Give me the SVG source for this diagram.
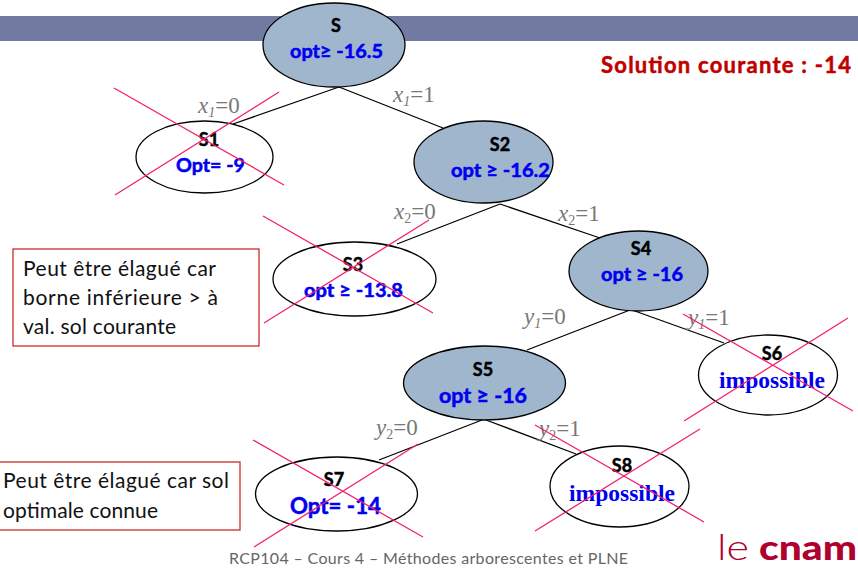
<svg xmlns="http://www.w3.org/2000/svg" width="858" height="568" viewBox="0 0 858 568">
<style>
.n{stroke:#000;stroke-width:1.3}
.g{fill:#9fb6cd}
.w{fill:#fff}
.c{stroke:#000;stroke-width:1.3;fill:none}
.x{stroke:#f5206e;stroke-width:1.3;fill:none}
.t{font-family:"Lato","Liberation Sans",sans-serif;font-weight:700;stroke-width:.5}
.h{font-size:18px;fill:#000;stroke:#000;text-anchor:middle}
.b{font-size:18px;fill:#0000f0;stroke:#0000f0}
.i{font-family:"Liberation Serif",serif;font-weight:700;font-size:23px;fill:#0000f0}
.e{font-family:"Liberation Serif",serif;font-size:23px;fill:#777}
.e .v{font-style:italic}
.e .s{font-size:14px}
.r{fill:#fff;stroke:#cc2a2a;stroke-width:1.3}
.a{font-family:"Lato","Liberation Sans",sans-serif;font-size:21px;fill:#111}
</style>
<rect id="band" x="0" y="16" width="858" height="25" fill="#717ba1"/>
<g id="connectors">
<path class="c" d="M339 87L233 124"/>
<path class="c" d="M339 87L443 128"/>
<path class="c" d="M500 204L397 244"/>
<path class="c" d="M500 204L600 238"/>
<path class="c" d="M630 310L527 350"/>
<path class="c" d="M632 310L724 343"/>
<path class="c" d="M482 420L379 460"/>
<path class="c" d="M486 420L576 454"/>
</g>
<g id="edge-labels">
<text class="e" x="198" y="113"><tspan class="v">x</tspan><tspan class="s v" dy="4">1</tspan><tspan dy="-4">=0</tspan></text>
<text class="e" x="393" y="102"><tspan class="v">x</tspan><tspan class="s v" dy="4">1</tspan><tspan dy="-4">=1</tspan></text>
<text class="e" x="394" y="219"><tspan class="v">x</tspan><tspan class="s" dy="4">2</tspan><tspan dy="-4">=0</tspan></text>
<text class="e" x="558" y="221"><tspan class="v">x</tspan><tspan class="s" dy="4">2</tspan><tspan dy="-4">=1</tspan></text>
<text class="e" x="524" y="324"><tspan class="v">y</tspan><tspan class="s v" dy="4">1</tspan><tspan dy="-4">=0</tspan></text>
<text class="e" x="688" y="325"><tspan class="v">y</tspan><tspan class="s v" dy="4">1</tspan><tspan dy="-4">=1</tspan></text>
<text class="e" x="376" y="435"><tspan class="v">y</tspan><tspan class="s" dy="4">2</tspan><tspan dy="-4">=0</tspan></text>
<text class="e" x="539" y="436"><tspan class="v">y</tspan><tspan class="s" dy="4">2</tspan><tspan dy="-4">=1</tspan></text>
</g>
<g id="S">
<ellipse class="n g" cx="334" cy="45" rx="71" ry="42"/>
<text class="t h" x="336" y="32">S</text>
<text class="t b" x="290" y="58" textLength="93" lengthAdjust="spacingAndGlyphs">opt≥ -16.5</text>
</g>
<g id="S1">
<ellipse class="n w" cx="204.500" cy="157" rx="68.500" ry="36"/>
<text class="t h" x="209" y="146">S1</text>
<text class="t b" x="176" y="172" textLength="69" lengthAdjust="spacingAndGlyphs">Opt= -9</text>
<path class="x" d="M114 88L284 185M279 92L115 195"/>
</g>
<g id="S2">
<ellipse class="n g" cx="483.500" cy="162" rx="69.500" ry="41"/>
<text class="t h" x="500" y="151">S2</text>
<text class="t b" x="451" y="177" textLength="99" lengthAdjust="spacingAndGlyphs">opt ≥ -16.2</text>
</g>
<g id="S3">
<ellipse class="n w" cx="354.500" cy="279" rx="81.500" ry="37"/>
<text class="t h" x="353" y="271">S3</text>
<text class="t b" x="304" y="297" textLength="99" lengthAdjust="spacingAndGlyphs">opt ≥ -13.8</text>
<path class="x" d="M263 216L433 313M429 220L264 323"/>
</g>
<g id="S4">
<ellipse class="n g" cx="638.500" cy="271" rx="69.500" ry="40"/>
<text class="t h" x="641" y="255">S4</text>
<text class="t b" x="601" y="281" textLength="82" lengthAdjust="spacingAndGlyphs">opt ≥ -16</text>
</g>
<g id="S5">
<ellipse class="n g" cx="484.500" cy="383" rx="81" ry="37"/>
<text class="t h" x="483" y="376">S5</text>
<text class="t b" x="439" y="403" style="font-size:20px" textLength="88" lengthAdjust="spacingAndGlyphs">opt ≥ -16</text>
</g>
<g id="S6">
<ellipse class="n w" cx="768" cy="375" rx="69.500" ry="40"/>
<text class="t h" x="772" y="360">S6</text>
<text class="i" x="719" y="388" textLength="106" lengthAdjust="spacingAndGlyphs">impossible</text>
<path class="x" d="M683 314L853 411M848 318L684 421"/>
</g>
<g id="S7">
<ellipse class="n w" cx="336.500" cy="494" rx="81" ry="37"/>
<text class="t h" x="334" y="486">S7</text>
<text class="t b" x="290" y="514" style="font-size:22px" textLength="91" lengthAdjust="spacingAndGlyphs">Opt= -14</text>
<path class="x" d="M253 440L423 537M418 444L254 547"/>
</g>
<g id="S8">
<ellipse class="n w" cx="619.500" cy="486.500" rx="69.500" ry="40.500"/>
<text class="t h" x="622" y="472">S8</text>
<text class="i" x="569" y="501" textLength="106" lengthAdjust="spacingAndGlyphs">impossible</text>
<path class="x" d="M535 425L704 522M700 429L535 531"/>
</g>
<g id="note-bound">
<rect class="r" x="13" y="249" width="246" height="97"/>
<text class="a" x="23" y="276" textLength="193" lengthAdjust="spacing">Peut être élagué car</text>
<text class="a" x="23" y="305" textLength="195" lengthAdjust="spacing">borne inférieure &gt; à</text>
<text class="a" x="23" y="334" textLength="153" lengthAdjust="spacing">val. sol courante</text>
</g>
<g id="note-optimal">
<rect class="r" x="-1" y="462" width="241" height="68"/>
<text class="a" x="3" y="488" textLength="226" lengthAdjust="spacing">Peut être élagué car sol</text>
<text class="a" x="3" y="518" textLength="155" lengthAdjust="spacing">optimale connue</text>
</g>
<text id="solution" class="t" x="601" y="73" font-size="22" fill="#c00000" stroke="#c00000" textLength="250" lengthAdjust="spacing">Solution courante : -14</text>
<text id="footer" x="229" y="564" font-family="Lato, 'Liberation Sans', sans-serif" font-size="16" fill="#666" textLength="399" lengthAdjust="spacing">RCP104 – Cours 4 – Méthodes arborescentes et PLNE</text>
<g id="logo" fill="#b0002d">
<text x="717" y="560" font-family="Lato, 'Liberation Sans', sans-serif" font-size="35" font-weight="300" textLength="32" lengthAdjust="spacingAndGlyphs">le</text>
<text x="759" y="560" font-family="Lato, 'Liberation Sans', sans-serif" font-size="35" font-weight="900" textLength="98" lengthAdjust="spacingAndGlyphs">cnam</text>
</g>
</svg>
